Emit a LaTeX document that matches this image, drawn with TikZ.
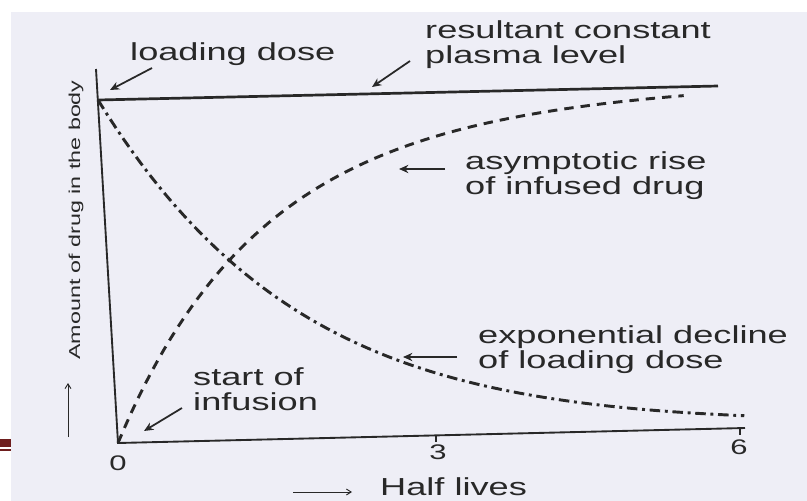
\documentclass[tikz,border=0pt]{standalone}
\usepackage{fontspec}
\newfontfamily\labelfont[FakeStretch=1.47]{Liberation Sans}
\usetikzlibrary{arrows.meta}
\definecolor{scanbg}{RGB}{238,238,246}
\definecolor{scanink}{RGB}{40,40,40}
\definecolor{slidered}{RGB}{110,30,30}

\begin{document}
\begin{tikzpicture}[x=0.03cm, y=-0.03cm,
    lbl/.style={font=\labelfont\fontsize{21}{20.5}\selectfont, text=scanink, inner sep=0pt, align=left, anchor=base west},
    num/.style={font=\labelfont\fontsize{18}{18}\selectfont, text=scanink, inner sep=0pt},
    axis/.style={draw=scanink, line width=1.6pt},
    pointer/.style={draw=scanink, line width=1.5pt, -{Stealth[length=8pt,width=7pt]}},
    thinarrow/.style={draw=scanink, line width=0.8pt, -{Straight Barb[length=4pt,width=5pt]}},
    rise/.style={draw=scanink, line width=2.5pt, dash pattern=on 8pt off 6pt},
    decline/.style={draw=scanink, line width=2.5pt, dash pattern=on 9pt off 4pt on 2.5pt off 4pt}]

    \useasboundingbox (0,0) rectangle (807,501);
    \fill[white] (0,0) rectangle (807,501);
    \fill[scanbg] (11,12) rectangle (807,501);
    \fill[slidered] (0,439) rectangle (11,447);
    \fill[slidered] (0,449) rectangle (11,451);

    % axes and plateau
    \coordinate (O) at (118,443);
    \coordinate (ytop) at (96,69);
    \coordinate (xend) at (745,428);
    \coordinate (t3) at (436,435.5);
    \coordinate (t6) at (740,428.5);
    \coordinate (L0) at (98,100);
    \coordinate (L1) at (718,86);
    \draw[axis] (ytop) -- (O) -- (xend);
    \draw[axis] (t3) -- ++(0,6);
    \draw[axis] (t6) -- ++(0,6);
    \draw[axis, line width=2.3pt] (L0) -- (L1);
    \node[num] (n0) at (118,463) {0};
    \node[num] (n3) at (438,452) {3};
    \node[num] (n6) at (739,447) {6};

    % curves, in half lives
    \begin{scope}[shift={(118,443)}, x={(3.135cm,0.075cm)}, y={(-0.6cm,10.29cm)}]
        \draw[decline] plot[domain=0:6, samples=80] (\x,{pow(2,-0.8*\x)});
        \draw[rise] plot[domain=0:5.6, samples=80] (\x,{1-pow(2,-0.92*\x)});
    \end{scope}

    \node[lbl] (ld) at (130,60) {loading dose};
    \node[lbl] (rcp) at (425,63) {resultant constant\\plasma level};
    \node[lbl] (air) at (465,194) {asymptotic rise\\of infused drug};
    \node[lbl] (edl) at (478,368) {exponential decline\\of loading dose};
    \node[lbl] (soi) at (193,410) {start of\\infusion};
    \node[lbl, align=none] (hl) at (380,495) {Half lives};
    \node[lbl, font=\labelfont\fontsize{13.5}{14}\selectfont, rotate=90, anchor=base] (amt) at (80,220) {Amount of drug in the body};

    \coordinate (ldT) at (152,68);
    \coordinate (ldH) at (110,90);
    \coordinate (rcpT) at (410,61);
    \coordinate (rcpH) at (372,87);
    \coordinate (airT) at (445,169);
    \coordinate (airH) at (399,169);
    \coordinate (edlT) at (457,357);
    \coordinate (edlH) at (403,357);
    \coordinate (soiT) at (182,408);
    \coordinate (soiH) at (144,431);
    \draw[pointer] (ldT) -- (ldH);
    \draw[pointer] (rcpT) -- (rcpH);
    \draw[pointer] (airT) -- (airH);
    \draw[pointer] (edlT) -- (edlH);
    \draw[pointer] (soiT) -- (soiH);

    \coordinate (amtT) at (68,437);
    \coordinate (amtH) at (68,383);
    \coordinate (hlT) at (293,492);
    \coordinate (hlH) at (352,492);
    \draw[thinarrow] (amtT) -- (amtH);
    \draw[thinarrow] (hlT) -- (hlH);
\end{tikzpicture}
\end{document}
